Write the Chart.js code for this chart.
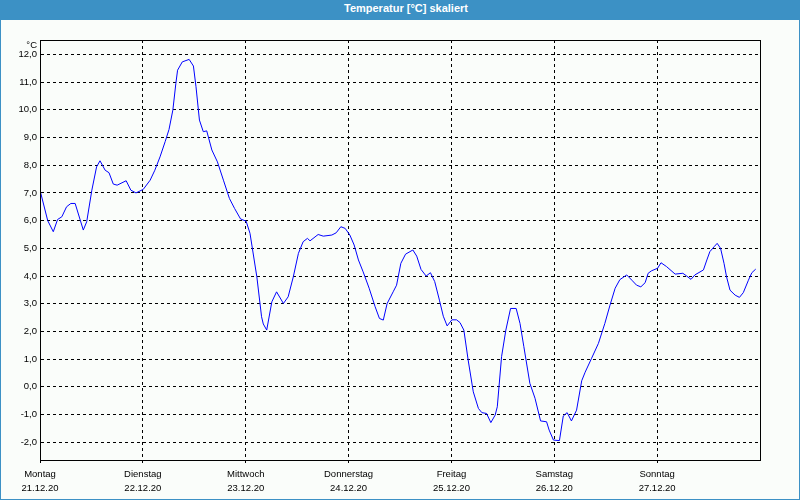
<!DOCTYPE html>
<html>
<head>
<meta charset="utf-8">
<script src="https://cdn.jsdelivr.net/npm/chart.js@4/dist/chart.umd.min.js"></script>
<style>
html,body{margin:0;padding:0;background:#ffffff;}
#frame{position:relative;width:800px;height:500px;background:#fafdfa;box-shadow:inset 0 0 0 1px #3c91c5;overflow:hidden;}
#title{position:absolute;left:0;top:0;width:800px;height:20px;box-sizing:border-box;padding-left:12px;background:#3c91c5;color:#ffffff;font:bold 11px "Liberation Sans",Arial,sans-serif;line-height:17px;text-align:center;}
#chart{position:absolute;left:0;top:0;}
</style>
</head>
<body>
<div id="frame">
  <div id="title">Temperatur [°C] skaliert</div>
  <canvas id="chart" width="800" height="500"></canvas>
</div>
<script>
// ---- data ----
const hours = [0,1.8,3.1,4.1,5.1,6.2,7.2,8.2,10.1,10.9,12.1,13.2,14.0,15.2,16.1,17.1,18.0,20.1,21.2,22.4,
  24.1,25.7,26.8,28.0,29.2,30.1,31.0,31.7,32.1,33.2,34.8,35.8,36.4,37.2,38.1,38.9,40.1,41.4,42.8,44.2,45.4,46.8,
  48.1,49.0,50.6,51.7,52.1,52.9,54.1,55.2,56.8,57.9,59.1,60.3,61.4,62.4,63.0,64.9,66.1,68.1,69.1,70.2,71.2,
  72.3,73.3,74.3,75.4,76.8,78.2,79.2,80.1,81.0,82.4,83.2,84.2,85.3,87.0,87.9,88.9,90.1,91.1,92.1,93.2,94.1,95.0,
  96.1,97.2,98.0,98.9,99.9,101.1,102.3,103.1,104.2,105.2,106.2,106.7,107.7,108.7,109.8,111.1,112.0,112.9,114.3,115.5,116.8,118.2,118.8,119.8,
  121.2,122.1,123.0,124.0,125.2,126.4,127.2,128.7,130.3,131.8,133.0,134.2,135.3,136.9,138.1,139.2,140.2,141.2,141.9,142.7,
  144.1,144.9,146.2,148.2,150.0,150.9,151.9,152.8,154.8,155.6,156.3,157.3,158.0,158.8,159.6,160.2,161.0,162.2,163.2,164.1,165.3,166.1,167.0];
const temps = [7.1,6.0,5.6,6.04,6.14,6.5,6.62,6.62,5.66,5.96,7.1,7.94,8.16,7.82,7.73,7.32,7.28,7.44,7.1,7.0,
  7.13,7.46,7.82,8.3,8.85,9.29,9.99,10.95,11.43,11.73,11.82,11.58,10.83,9.63,9.21,9.24,8.55,8.12,7.46,6.8,6.44,6.06,
  5.98,5.54,3.97,2.53,2.27,2.05,3.07,3.43,3.01,3.25,3.97,4.82,5.24,5.36,5.27,5.5,5.44,5.48,5.56,5.78,5.72,
  5.48,5.12,4.58,4.15,3.56,2.89,2.47,2.41,3.01,3.43,3.67,4.46,4.79,4.94,4.72,4.24,4.0,4.12,3.8,3.13,2.55,2.2,
  2.42,2.42,2.32,2.05,0.97,-0.18,-0.78,-0.93,-0.96,-1.29,-1.02,-0.72,1.09,2.05,2.83,2.83,2.29,1.45,0.13,-0.41,-1.23,-1.26,-1.56,-1.92,
  -1.94,-1.05,-0.93,-1.23,-0.84,0.22,0.53,1.03,1.57,2.29,2.95,3.56,3.87,4.04,3.85,3.67,3.61,3.76,4.1,4.19,
  4.28,4.48,4.34,4.07,4.1,4.0,3.88,4.04,4.22,4.58,4.88,5.06,5.18,5.0,4.46,3.97,3.49,3.31,3.23,3.4,3.85,4.12,4.25];
const dayNames = ['Montag','Dienstag','Mittwoch','Donnerstag','Freitag','Samstag','Sonntag'];
const dayDates = ['21.12.20','22.12.20','23.12.20','24.12.20','25.12.20','26.12.20','27.12.20'];
const dayTickHours = [0,24,48,72,96,120,144];
const yTickValues = [-2,-1,0,1,2,3,4,5,6,7,8,9,10,11,12];
const unitLabel = '°C';
const xMin = 0, xMax = 168, yMin = -2.64, yMax = 12.52;

const FONT = '"Liberation Sans", Arial, sans-serif';

const framePlugin = {
  id: 'frame',
  afterDraw(chart) {
    const {ctx, chartArea: a} = chart;
    ctx.save();
    ctx.strokeStyle = '#000';
    ctx.lineWidth = 1;
    ctx.setLineDash([]);
    ctx.strokeRect(a.left + 0.5, a.top + 0.5, a.right - a.left, a.bottom - a.top);
    ctx.fillStyle = '#000';
    ctx.font = '9.5px ' + FONT;
    ctx.textAlign = 'right';
    ctx.textBaseline = 'middle';
    ctx.fillText(unitLabel, a.left - 3, a.top + 5);
    ctx.restore();
  }
};

new Chart(document.getElementById('chart'), {
  type: 'line',
  data: {
    datasets: [{
      data: hours.map((h, i) => ({x: h, y: temps[i]})),
      borderColor: '#0000ff',
      borderWidth: 1,
      pointRadius: 0,
      tension: 0,
      fill: false
    }]
  },
  options: {
    responsive: false,
    animation: false,
    devicePixelRatio: 1,
    layout: {padding: {left: 0, top: 40, right: 40, bottom: 0}},
    plugins: {legend: {display: false}, tooltip: {enabled: false}, title: {display: false}},
    scales: {
      x: {
        type: 'linear', min: xMin, max: xMax,
        afterBuildTicks: a => { a.ticks = dayTickHours.map(v => ({value: v})); },
        afterFit: a => { a.height = 40; },
        grid: {color: '#000', lineWidth: 1, drawTicks: true, tickLength: 3, tickColor: '#000'},
        border: {display: true, color: '#000', width: 1, dash: [3, 3]},
        ticks: {
          autoSkip: false, maxRotation: 0, minRotation: 0, padding: 4, color: '#000',
          font: {family: FONT, size: 9.5, lineHeight: 1.47},
          callback: v => { const i = dayTickHours.indexOf(v); return i >= 0 ? [dayNames[i], dayDates[i]] : ''; }
        }
      },
      y: {
        type: 'linear', min: yMin, max: yMax,
        afterBuildTicks: a => { a.ticks = yTickValues.map(v => ({value: v})); },
        afterFit: a => { a.width = 40; },
        grid: {color: '#000', lineWidth: 1, drawTicks: false},
        border: {display: true, color: '#000', width: 1, dash: [3, 3]},
        ticks: {
          padding: 3, color: '#000',
          font: {family: FONT, size: 9.5},
          callback: v => v.toFixed(1).replace('.', ',')
        }
      }
    }
  },
  plugins: [framePlugin]
});
</script>
</body>
</html>
